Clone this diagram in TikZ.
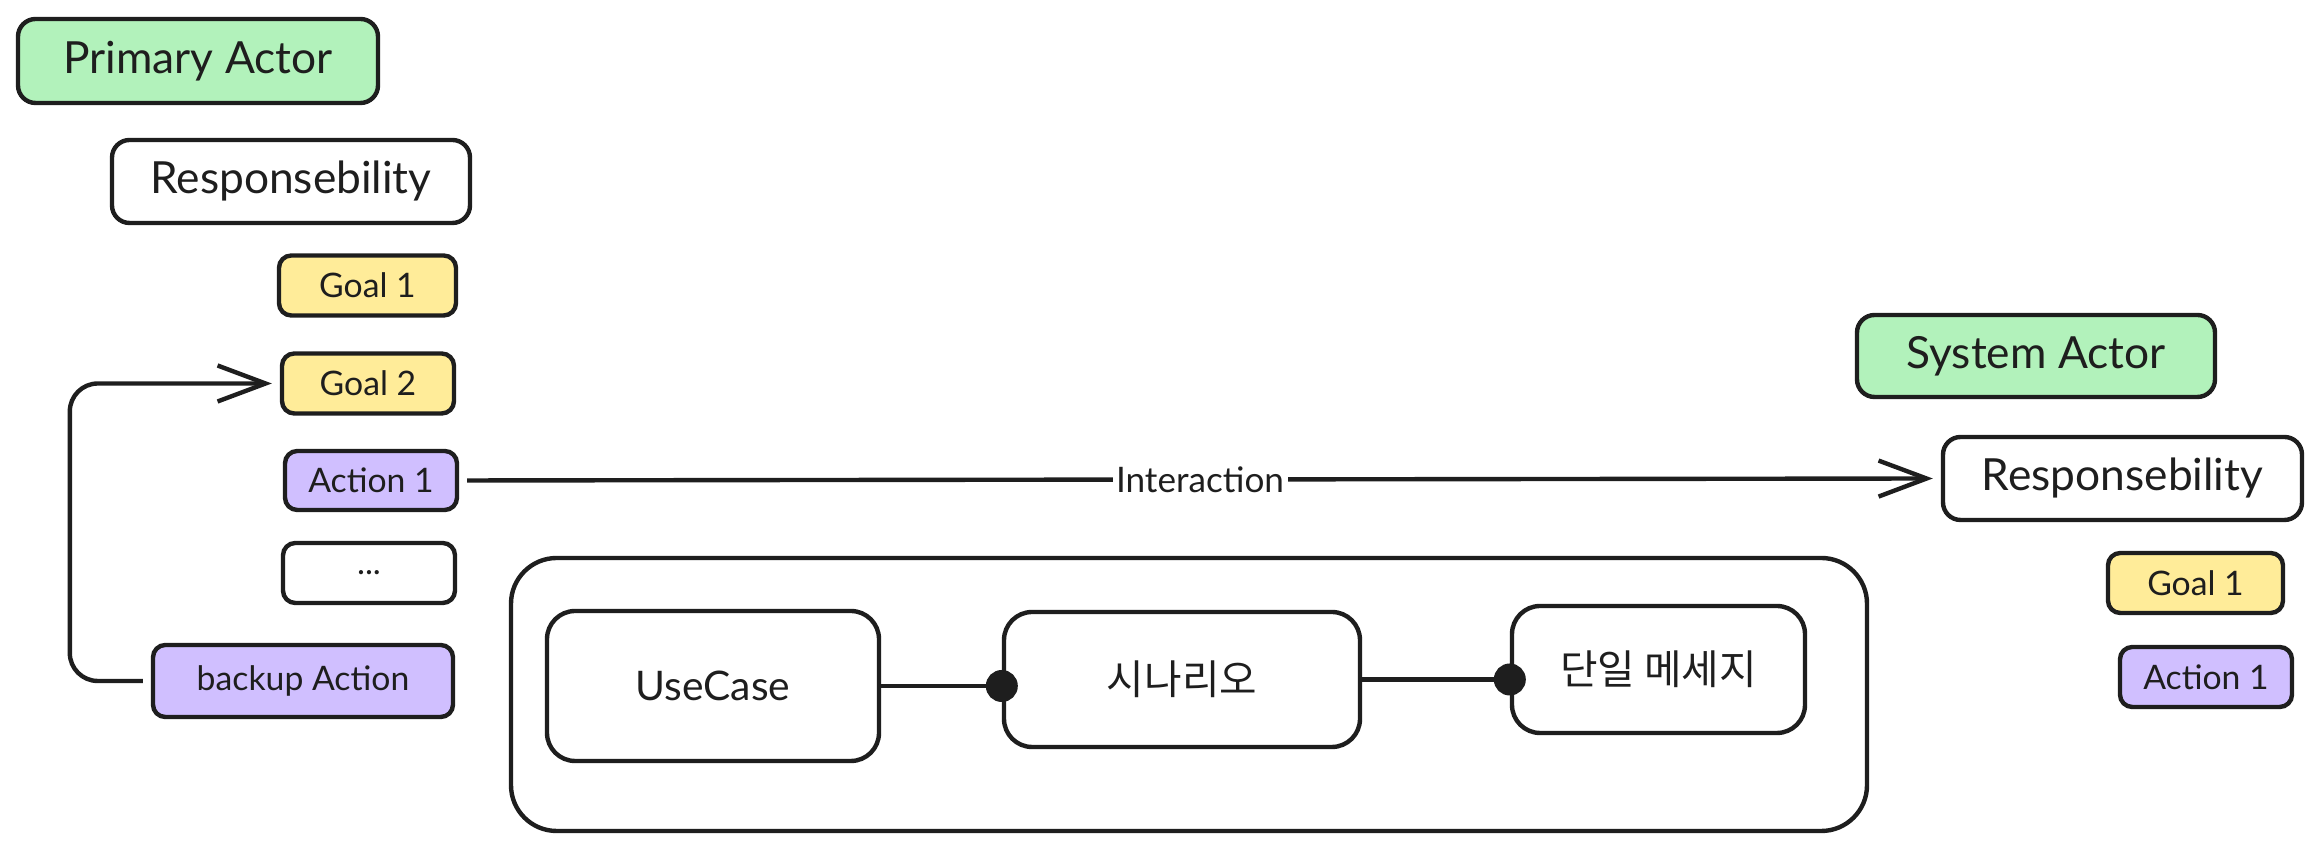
\documentclass[tikz,border=0pt]{standalone}
\usepackage{fontspec}
\setmainfont{Lato}
\newfontfamily\krfont{Noto Sans CJK KR}
\usetikzlibrary{arrows.meta,calc}
\definecolor{ink}{HTML}{1E1E1E}
\definecolor{actorc}{HTML}{B2F2BB}
\definecolor{goalc}{HTML}{FFEC99}
\definecolor{actionc}{HTML}{D0BFFF}
\tikzset{
  box/.style={rounded corners=5pt,draw=ink,fill=#1,line width=1.25pt,text=ink,
    inner sep=0pt,align=center},
  box/.default=white,
  head/.style={box=#1,minimum width=3.58cm,minimum height=0.83cm,
    font=\fontsize{12.6}{14}\selectfont},
  head/.default=white,
  chip/.style={box=#1,rounded corners=3.5pt,minimum width=1.73cm,minimum height=0.6cm,
    font=\fontsize{9.6}{11}\selectfont},
  chip/.default=white,
  stage/.style={box,rounded corners=8pt,font=\fontsize{11.6}{13}\selectfont},
  arr/.style={-{Straight Barb[length=4.8mm,width=3.6mm]},line width=1.25pt,draw=ink,
    shorten >=0.8mm,shorten <=0.8mm},
  dotlink/.style={-{Circle[length=3.2mm]},line width=1.25pt,draw=ink,shorten >=-1.6mm},
}
\begin{document}
\begin{tikzpicture}
    \useasboundingbox (0,0) rectangle (23.2,-8.5);

    % primary actor side
    \node[head=actorc,minimum width=3.6cm,minimum height=0.84cm] (pa) at (1.98,-0.61) {Primary Actor};
    \node[head] (resp) at (2.91,-1.815) {Responsebility};
    \node[chip=goalc,minimum width=1.77cm] (goal) at (3.675,-2.855) {Goal 1};
    \node[chip=goalc,minimum width=1.72cm] (goalb) at (3.68,-3.835) {Goal 2};
    \node[chip=actionc,minimum width=1.72cm,minimum height=0.59cm] (act) at (3.71,-4.805) {Action 1};
    \node[chip,minimum width=1.72cm] (more) at (3.69,-5.73) {...};
    \node[chip=actionc,minimum width=3.0cm,minimum height=0.72cm] (backup) at (3.03,-6.81) {backup Action};

    % system actor side
    \node[head=actorc,minimum width=3.58cm,minimum height=0.82cm] (sa) at (20.36,-3.56) {System Actor};
    \node[head,minimum width=3.59cm] (sresp) at (21.225,-4.785) {Responsebility};
    \node[chip=goalc,minimum width=1.75cm] (sgoal) at (21.955,-5.83) {Goal 1};
    \node[chip=actionc,minimum width=1.72cm] (sact) at (22.06,-6.77) {Action 1};

    % use case container
    \node[box,rounded corners=13pt,minimum width=13.56cm,minimum height=2.73cm] (frame) at (11.89,-6.945) {};
    \node[stage,minimum width=3.32cm,minimum height=1.5cm] (uc) at (7.13,-6.86) {UseCase};
    \node[stage,minimum width=3.56cm,minimum height=1.35cm,font=\krfont\fontsize{11.6}{13}\selectfont] (scen) at (11.82,-6.795) {시나리오};
    \node[stage,minimum width=2.93cm,minimum height=1.27cm,font=\krfont\fontsize{11.6}{13}\selectfont] (msg) at (16.585,-6.695) {단일 메세지};

    \draw[arr] (act.east) -- node[fill=white,inner sep=1pt,text=ink,font=\fontsize{10}{12}\selectfont] {Interaction} (sresp.west);
    \draw[arr,rounded corners=0.28cm] (backup.west) -- ++(-0.81,0) |- (goalb.west);
    \draw[dotlink] (uc.east) -- (uc.east -| scen.west);
    \draw[dotlink] (scen.east) -- (scen.east -| msg.west);
\end{tikzpicture}
\end{document}
